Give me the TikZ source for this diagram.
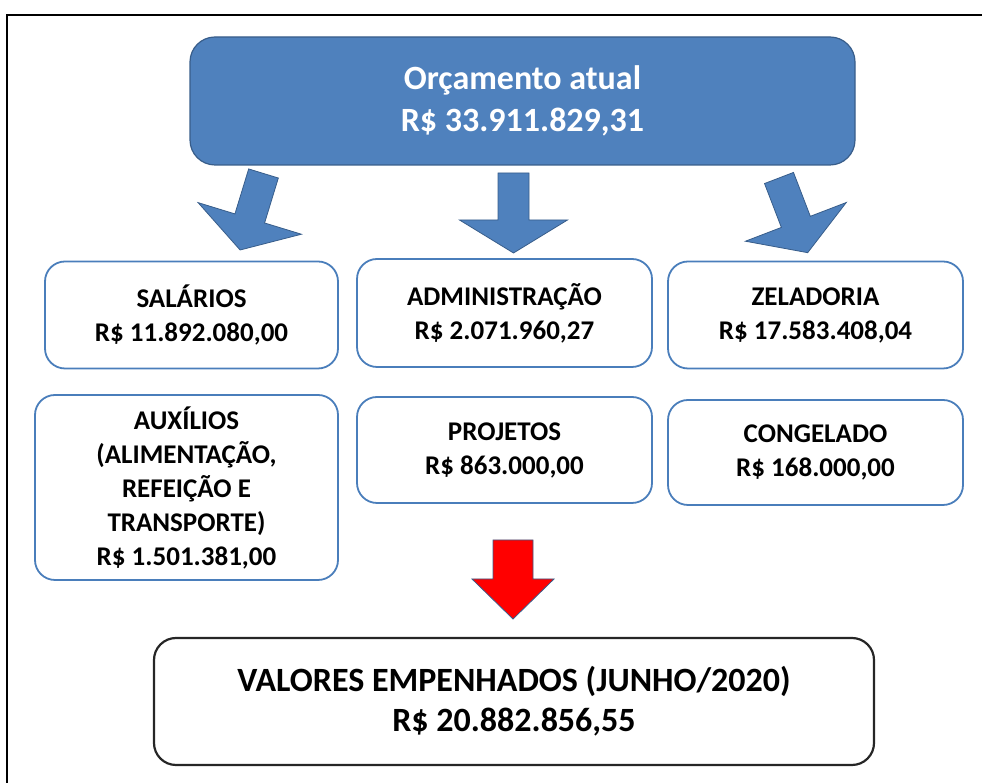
\documentclass[tikz,border=0pt]{standalone}
\usepackage{fontspec}
\setmainfont{Carlito}
\definecolor{azul}{HTML}{4F81BD}
\definecolor{azulborda}{HTML}{385D8A}
\definecolor{bordacaixa}{HTML}{4A7EBB}
\begin{document}
\begin{tikzpicture}[x=1pt,y=1pt,
    caixa/.style={draw=bordacaixa, line width=1.8pt, fill=white, rounded corners=20pt,
      align=center, inner sep=0pt, font=\fontsize{27}{34}\selectfont\bfseries},
    seta/.style={fill=azul, draw=azulborda, line width=0.8pt}]
    \useasboundingbox (0,0) rectangle (982,783);
    % Moldura
    \draw[line width=1.8pt] (995,768) -- (7,768) -- (7,-10);

    % Orçamento atual
    \node[fill=azul, draw=azulborda, line width=1.2pt, rounded corners=25pt,
      minimum width=665pt, minimum height=128pt, text=white, align=center,
      font=\fontsize{34}{42}\selectfont\bfseries] (orcamento) at (522.5,682)
      {Orçamento atual\\R\$ 33.911.829,31};

    % Primeira linha
    \node[caixa, minimum width=293pt, minimum height=107pt] (salarios) at (191.5,468)
      {SALÁRIOS\\R\$ 11.892.080,00};
    \node[caixa, minimum width=295pt, minimum height=108pt] (admin) at (504.5,470)
      {ADMINISTRAÇÃO\\R\$ 2.071.960,27};
    \node[caixa, minimum width=295pt, minimum height=107pt] (zeladoria) at (815.5,468)
      {ZELADORIA\\R\$ 17.583.408,04};

    % Segunda linha
    \node[caixa, minimum width=303pt, minimum height=185pt] (auxilios) at (186.5,295.5)
      {AUXÍLIOS\\(ALIMENTAÇÃO,\\REFEIÇÃO E\\TRANSPORTE)\\R\$ 1.501.381,00};
    \node[caixa, minimum width=295pt, minimum height=106pt] (projetos) at (504.5,333)
      {PROJETOS\\R\$ 863.000,00};
    \node[caixa, minimum width=295pt, minimum height=105pt] (congelado) at (815.5,330.5)
      {CONGELADO\\R\$ 168.000,00};

    % Valores empenhados
    \node[draw=black!85, line width=2.2pt, fill=white, rounded corners=22pt,
      minimum width=720pt, minimum height=127pt, align=center,
      font=\fontsize{34}{40}\selectfont\bfseries] (empenhados) at (514,81.5)
      {VALORES EMPENHADOS (JUNHO/2020)\\R\$ 20.882.856,55};

    % Setas
    \coordinate (setaE) at (263.5,609.5);
    \coordinate (setaC) at (513.5,610);
    \coordinate (setaD) at (779,605);
    \coordinate (setaV) at (513,243);
    \begin{scope}[shift={(setaE)}, rotate=-17]
        \draw[seta] (-15.5,0) -- (15.5,0) -- (15.5,-47) -- (54,-47) -- (0,-80) -- (-54,-47) -- (-15.5,-47) -- cycle;
    \end{scope}
    \begin{scope}[shift={(setaC)}]
        \draw[seta] (-15.5,0) -- (15.5,0) -- (15.5,-47) -- (54,-47) -- (0,-80) -- (-54,-47) -- (-15.5,-47) -- cycle;
    \end{scope}
    \begin{scope}[shift={(setaD)}, rotate=21]
        \draw[seta] (-15.5,0) -- (15.5,0) -- (15.5,-47) -- (54,-47) -- (0,-80) -- (-54,-47) -- (-15.5,-47) -- cycle;
    \end{scope}
    \begin{scope}[shift={(setaV)}]
        \draw[seta, fill=red] (-20,0) -- (20,0) -- (20,-39) -- (41,-39) -- (0,-79) -- (-41,-39) -- (-20,-39) -- cycle;
    \end{scope}
\end{tikzpicture}
\end{document}
